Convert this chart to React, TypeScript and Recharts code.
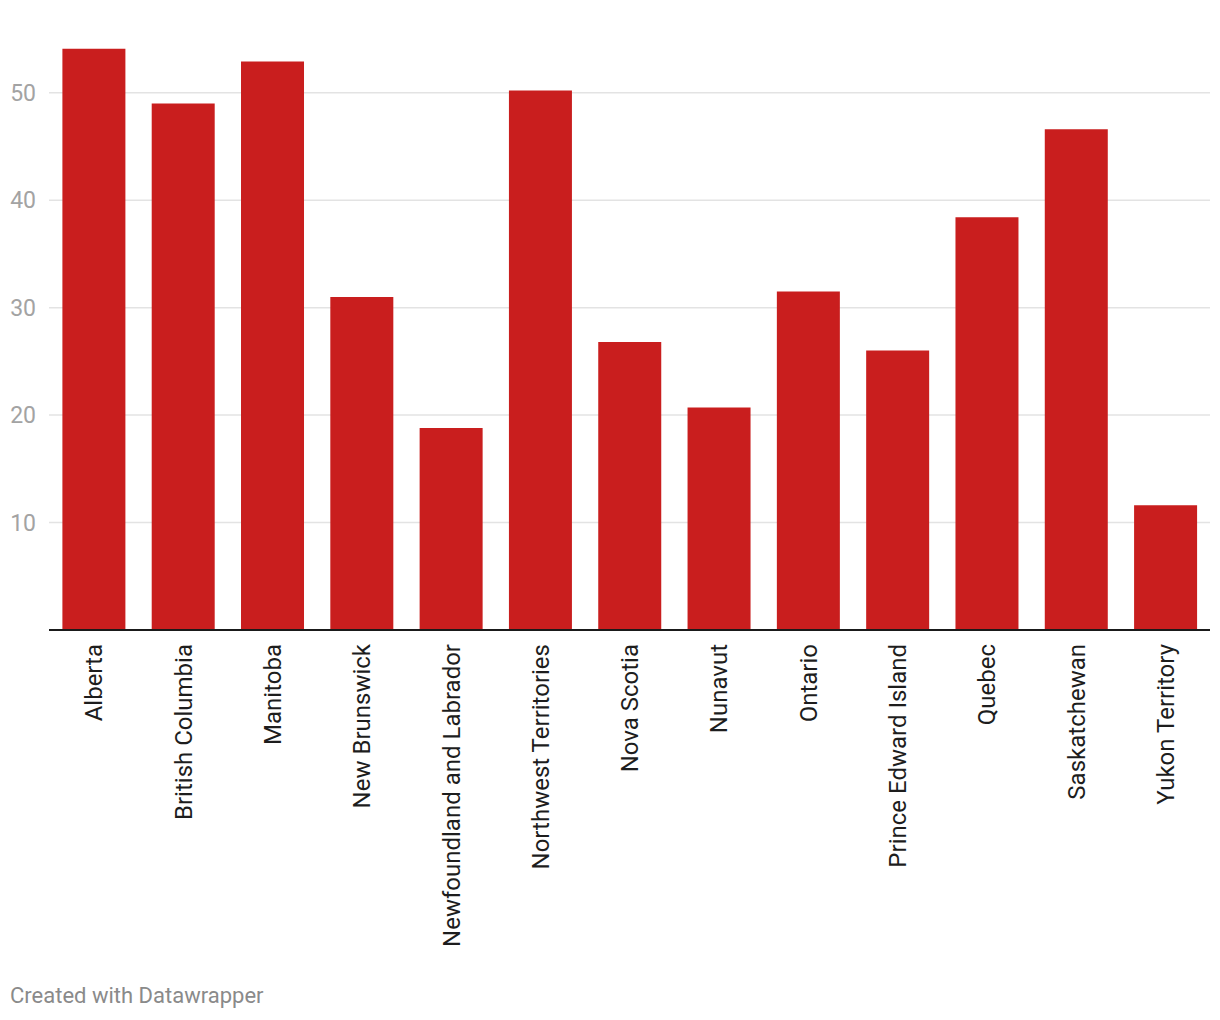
import React from "react";
import { BarChart, Bar, XAxis, YAxis, CartesianGrid } from "recharts";

const provinces = [
  "Alberta",
  "British Columbia",
  "Manitoba",
  "New Brunswick",
  "Newfoundland and Labrador",
  "Northwest Territories",
  "Nova Scotia",
  "Nunavut",
  "Ontario",
  "Prince Edward Island",
  "Quebec",
  "Saskatchewan",
  "Yukon Territory",
];

const values = [54.1, 49.0, 52.9, 31.0, 18.8, 50.2, 26.8, 20.7, 31.5, 26.0, 38.4, 46.6, 11.6];

const yTicks = [10, 20, 30, 40, 50];

const data = provinces.map((name, i) => ({ name, value: values[i] }));

const FONT = "Roboto, 'Noto Sans', sans-serif";

const RotatedTick = (props: any) => {
  const { x, y, payload } = props;
  return (
    <text
      transform={`translate(${x},${y + 6}) rotate(-90)`}
      textAnchor="end"
      dy="0.36em"
      fill="#1d1d1d"
      fontSize={24}
      fontFamily={FONT}
    >
      {payload.value}
    </text>
  );
};

export default function App() {
  return (
    <div
      style={{
        position: "absolute",
        left: 0,
        top: 0,
        width: 1220,
        height: 1020,
        background: "#fff",
        fontFamily: FONT,
      }}
    >
      <BarChart
        width={1220}
        height={1020}
        data={data}
        margin={{ top: 39, right: 10, left: 0, bottom: 0 }}
        barCategoryGap="15%"
      >
        <CartesianGrid
          vertical={false}
          horizontalValues={yTicks}
          stroke="#e3e3e3"
          strokeWidth={1.5}
        />
        <XAxis
          dataKey="name"
          interval={0}
          height={390}
          tickLine={false}
          axisLine={{ stroke: "#1a1a1a", strokeWidth: 2 }}
          tick={<RotatedTick />}
        />
        <YAxis
          width={49}
          domain={[0, 55]}
          ticks={yTicks}
          axisLine={false}
          tickLine={false}
          tick={{ fill: "#a3a3a3", fontSize: 23, fontFamily: FONT }}
          tickMargin={7}
        />
        <Bar dataKey="value" fill="#c91e1e" isAnimationActive={false} />
      </BarChart>
      <div
        style={{
          position: "absolute",
          left: 10,
          top: 983,
          fontSize: 22,
          color: "#8a8a8a",
          fontFamily: FONT,
        }}
      >
        Created with Datawrapper
      </div>
    </div>
  );
}
